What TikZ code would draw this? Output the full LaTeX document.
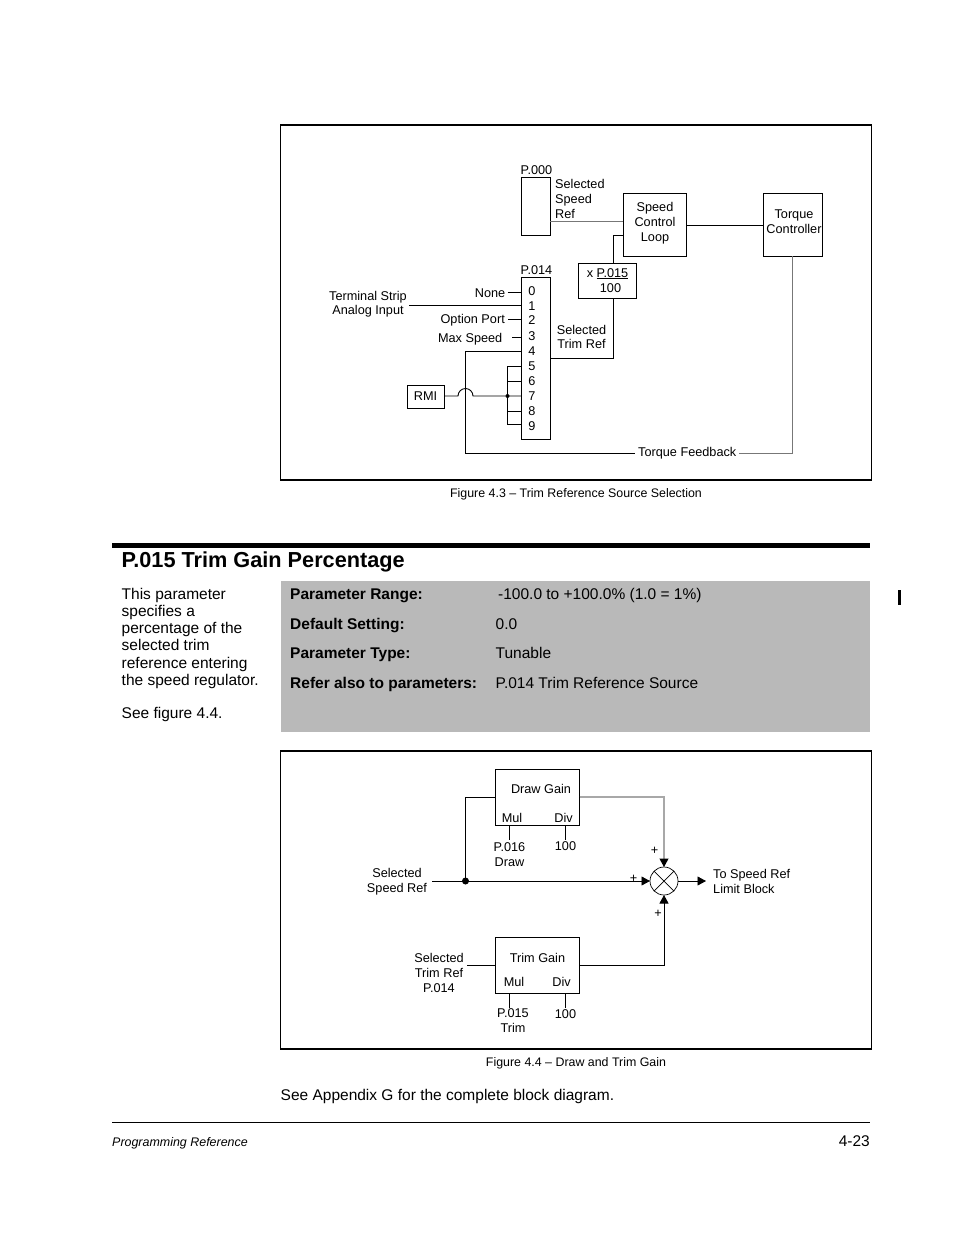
\documentclass[tikz,border=0pt]{standalone}
\usepackage{fontspec}
\setmainfont{Liberation Sans}
\definecolor{panel}{HTML}{B9B9B9}
\definecolor{lgray}{HTML}{777777}
\definecolor{mgray}{HTML}{A8A8A8}
\usetikzlibrary{arrows.meta,calc}
\tikzset{
  box/.style={draw=black,line width=0.9pt,rectangle,inner sep=0pt,outer sep=0pt,anchor=north west},
  frame/.style={draw=black,line width=1.5pt,rectangle,inner sep=0pt,outer sep=0pt,anchor=north west},
  lab/.style={inner sep=0pt,font=\fontsize{12.7}{14.8}\selectfont,align=center},
  figcap/.style={inner sep=0pt,anchor=base,font=\fontsize{12.4}{15}\selectfont},
  body/.style={inner sep=0pt,anchor=base west,font=\fontsize{15.5}{17}\selectfont},
  bodyb/.style={inner sep=0pt,anchor=base west,font=\fontsize{15.5}{17}\selectfont\bfseries},
  wire/.style={line width=0.9pt},
  gwire/.style={line width=0.9pt,draw=lgray},
  mwire/.style={line width=1.1pt,draw=mgray},
  tip/.style={-{Triangle[length=8.5pt,width=9pt,color=black]}},
  dotn/.style={circle,fill=black,inner sep=0pt}
}
\begin{document}
\begin{tikzpicture}[x=1pt,y=-1pt]
\useasboundingbox (0,0) rectangle (954,1235);
% frames
\node[frame,minimum width=591pt,minimum height=355pt] (f1) at (280.5,125) {};
\node[frame,minimum width=591pt,minimum height=298pt] (f2) at (280.5,751) {};
% Figure 4.3 boxes
\node[box,minimum width=29pt,minimum height=58pt] (p0) at (521,177) {};
\node[box,minimum width=63pt,minimum height=63pt] (scl) at (623,193) {};
\node[box,minimum width=58.5pt,minimum height=63pt] (tc) at (763.5,193) {};
\node[box,minimum width=58pt,minimum height=35pt] (xp) at (578.5,263) {};
\node[box,minimum width=29pt,minimum height=162pt] (p14) at (521,277) {};
\node[box,minimum width=37pt,minimum height=23pt,lab] (rmi) at (407,385) {};
\node[lab] at (rmi.center) {RMI};
\node[lab] at (655,223.3) {Speed\\Control\\Loop};
\node[lab] at (794,221.5) {Torque\\Controller};
\node[lab,anchor=base] (l000) at (536.5,174.5) {P.000};
\node[lab,anchor=base] (l014) at (536.5,274.5) {P.014};
\node[lab,align=left,anchor=north west] (ssr) at (555,179) {Selected\\Speed\\Ref};
\node[lab,anchor=base] (xtxt) at (607.5,277) {x \underline{P.015}};
\node[lab,anchor=base] (x100) at (610.5,292) {100};
\node[lab] (tsa) at (368,304.2) {Terminal Strip\\Analog Input};
\node[lab,anchor=base east] (none) at (505.5,297) {None};
\node[lab,anchor=base east] (opt) at (505,323) {Option Port};
\node[lab,anchor=base east] (max) at (502.5,342) {Max Speed};
\node[lab] (str) at (581.5,337) {Selected\\Trim Ref};
\node[lab,anchor=base west] (tfb) at (638,456) {Torque Feedback};
\foreach \d/\y in {0/295,1/310,2/324,3/340,4/355,5/370,6/385,7/400,8/415,9/430}
  \node[lab,anchor=base] (d\d) at (532,\y) {\d};
% Figure 4.3 wires
\coordinate (p0out) at (p0.east |- 0,221);
\coordinate (sclin) at (scl.west |- 0,221);
\draw[gwire] (p0out) -- (sclin);
\draw[wire] (scl.east |- 0,225) -- (tc.west |- 0,225);
\draw[wire] (scl.west |- 0,235) -| (613.5,263);
\draw[wire] (613.5,298) |- (p14.east |- 0,358.5);
\draw[wire] (507.5,292) -- (p14.west |- 0,292);
\draw[wire] (409,305) -- (p14.west |- 0,305);
\draw[wire] (508,319) -- (p14.west |- 0,319);
\draw[wire] (512,337) -- (p14.west |- 0,337);
\draw[wire] (p14.west |- 0,351) -| (465.5,453) -- (635,453);
\draw[gwire] (739,453) -- (792.5,453) -- (792.5,256);
\draw[wire] (rmi.east |- 0,396) -- (458,396) arc[start angle=180,end angle=360,radius=7.5] -- (p14.west |- 0,396);
\draw[wire] (p14.west |- 0,366) -- (507.5,366) -- (507.5,424.5) -- (p14.west |- 0,424.5);
\draw[wire] (507.5,381) -- (p14.west |- 0,381);
\draw[wire] (507.5,411) -- (p14.west |- 0,411);
\node[dotn,minimum size=4pt] (jn1) at (507.5,396) {};
% captions
\node[figcap] (cap3) at (576,497) {Figure 4.3 – Trim Reference Source Selection};
\node[figcap] (cap4) at (576,1066) {Figure 4.4 – Draw and Trim Gain};
% heading
\fill (112,543) rectangle (870,548);
\node[inner sep=0pt,anchor=base west,font=\fontsize{21.7}{26}\selectfont\bfseries] at (121.5,567) {P.015 Trim Gain Percentage};
\node[inner sep=0pt,anchor=north west,align=left,font=\fontsize{15.5}{17.1}\selectfont] at (121.5,588.2) {This parameter\\specifies a\\percentage of the\\selected trim\\reference entering\\the speed regulator.\\[16.6pt]See figure 4.4.};
\fill[panel] (281,581) rectangle (870,732);
\fill (898,590) rectangle (901,605);
\node[bodyb] at (290,599) {Parameter Range:};
\node[bodyb] at (290,629) {Default Setting:};
\node[bodyb] at (290,658) {Parameter Type:};
\node[bodyb] at (290,688) {Refer also to parameters:};
\node[body] at (498,599) {-100.0 to +100.0\% (1.0 = 1\%)};
\node[body] at (495.5,629) {0.0};
\node[body] at (495.5,658) {Tunable};
\node[body] at (495.5,688) {P.014 Trim Reference Source};
% Figure 4.4
\node[box,minimum width=84pt,minimum height=56pt] (dg) at (495.5,769.5) {};
\node[box,minimum width=84pt,minimum height=56pt] (tg) at (495.5,937.5) {};
\node[draw=black,line width=0.7pt,circle,minimum size=28pt,inner sep=0pt,outer sep=0pt] (sum) at (664,881) {};
\draw[line width=0.7pt] (sum.north west) -- (sum.south east) (sum.north east) -- (sum.south west);
\node[lab,anchor=base] at (541,793) {Draw Gain};
\node[lab,anchor=base] at (512,822) {Mul};
\node[lab,anchor=base] at (563.5,822) {Div};
\node[lab,anchor=base] at (537.5,962) {Trim Gain};
\node[lab,anchor=base] at (514,986) {Mul};
\node[lab,anchor=base] at (561.5,986) {Div};
\node[lab] (p16) at (509.5,855) {P.016\\Draw};
\node[lab] (h1) at (565.5,846) {100};
\node[lab] (p15) at (513,1020.5) {P.015\\Trim};
\node[lab] (h2) at (565.5,1014) {100};
\node[lab] (sref) at (397,881.7) {Selected\\Speed Ref};
\node[lab] (stref) at (439,973) {Selected\\Trim Ref\\P.014};
\node[lab,align=left,anchor=west] (out) at (713,881.5) {To Speed Ref\\Limit Block};
\node[lab,anchor=base] at (654.5,854) {+};
\node[lab,anchor=base] at (633.5,882) {+};
\node[lab,anchor=base] at (658,917) {+};
\coordinate (jn2) at (465.5,881);
\coordinate (mainin) at (432,881);
\draw[wire,tip] (mainin) -- (sum.west);
\node[dotn,minimum size=7pt] at (jn2) {};
\draw[wire] (jn2) |- (dg.west |- 0,797);
\draw[mwire,tip] (dg.east |- 0,797) -| (sum.north);
\draw[wire] (467,965) -- (tg.west |- 0,965);
\draw[wire,tip] (tg.east |- 0,965) -| (sum.south);
\coordinate (outend) at (706,881);
\draw[wire,tip] (sum.east) -- (outend);
\draw[wire] (509.5,825) -- (509.5,840);
\draw[wire] (565.5,825) -- (565.5,840);
\draw[wire] (509.5,993) -- (509.5,1008);
\draw[wire] (565.5,993) -- (565.5,1008);
% footer
\node[body] at (280.5,1100) {See Appendix G for the complete block diagram.};
\draw[line width=1pt] (112,1122) -- (870,1122);
\node[inner sep=0pt,anchor=base west,font=\fontsize{12.45}{15}\selectfont\itshape] at (112,1146) {Programming Reference};
\node[inner sep=0pt,anchor=base east,font=\fontsize{15.5}{17}\selectfont] at (870,1146) {4-23};
\end{tikzpicture}
\end{document}
